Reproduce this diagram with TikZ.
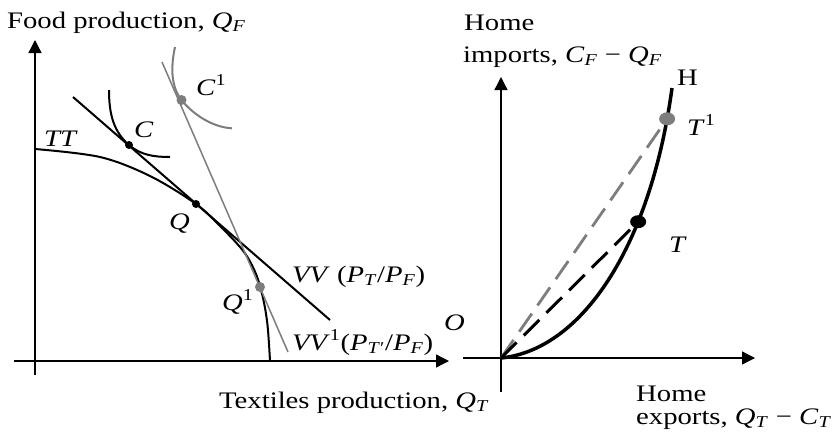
\documentclass[tikz,border=0pt]{standalone}
\usepackage{graphicx}
\usepackage{fontspec}
\setmainfont{Liberation Serif}
\usetikzlibrary{arrows.meta, shapes.geometric}
\definecolor{mgray}{RGB}{125,125,125}
\newcommand{\isub}[2]{\textit{#1}\textsubscript{\textit{#2}}}
\newcommand{\wide}[1]{\scalebox{1.21}[1.0]{#1}}

\begin{document}
\begin{tikzpicture}[x=1pt, y=-1pt,
    axis/.style={line width=1.3pt, -{Triangle[length=13pt,width=13pt]}},
    lbl/.style={anchor=base west, inner sep=0pt,
                font=\fontsize{23.7}{28}\selectfont},
    sdot/.style={circle, fill=black, inner sep=0pt, minimum size=8pt},
    gdot/.style={circle, fill=mgray, inner sep=0pt, minimum size=10pt},
    bigdot/.style={ellipse, fill=black, inner sep=0pt,
                   minimum width=16pt, minimum height=13pt},
    dashline/.style={line width=3pt, dash pattern=on 22pt off 10pt}]
  \useasboundingbox (0,0) rectangle (840,432);

  % left panel: production
  \coordinate (xl0) at (14,361);  \coordinate (xl1) at (449,361);
  \coordinate (yl0) at (35,375);  \coordinate (yl1) at (35,40);
  \draw[axis] (xl0) -- (xl1);
  \draw[axis] (yl0) -- (yl1);

  \draw[line width=2pt] plot[smooth, tension=0.55] coordinates {
    (35,149) (100,157) (150,176) (196,204) (222,228) (244,252)
    (256,274) (263,298) (267.5,325) (270,361)};

  \coordinate (C) at (129,145);
  \coordinate (C1) at (181.5,100);
  \coordinate (vva) at (73,97);   \coordinate (vvb) at (330,320);
  \coordinate (vwa) at (162,62);  \coordinate (vwb) at (288,352);
  \draw[line width=2pt] (vva) -- (vvb);
  \draw[line width=1.5pt, mgray] (vwa) -- (vwb);

  \draw[line width=2pt] (109,90) .. controls (109,115) and (114,132) .. (C)
    .. controls (141,155.4) and (155,157) .. (170,157);
  \draw[line width=2pt, mgray] (175,47) .. controls (170,70) and (172,88) .. (C1)
    .. controls (191,112) and (210,127) .. (232,128.3);

  \node[sdot] (Cd) at (C) {};
  \node[gdot] (C1d) at (C1) {};
  \node[sdot] (Qd) at (196,204) {};
  \node[gdot] (Q1d) at (260,287) {};

  \node[lbl] (foodlbl) at (7,28) {\wide{Food production, \isub{Q}{F}}};
  \node[lbl] (textlbl) at (219,408) {\wide{Textiles production, \isub{Q}{T}}};
  \node[lbl] (TTlbl) at (44,146) {\wide{\textit{TT}}};
  \node[lbl] (Clbl) at (134,137) {\wide{\textit{C}}};
  \node[lbl] (C1lbl) at (196,95) {\wide{\textit{C}\textsuperscript{1}}};
  \node[lbl] (Qlbl) at (169,229) {\wide{\textit{Q}}};
  \node[lbl] (Q1lbl) at (222,310) {\wide{\textit{Q}\textsuperscript{1}}};
  \node[lbl] (VVlbl) at (292,282) {\wide{\textit{VV} (\isub{P}{T}/\isub{P}{F})}};
  \node[lbl] (VV1lbl) at (292,350)
    {\wide{\textit{VV}\textsuperscript{1}(\textit{P}\textsubscript{\textit{T}′}/\isub{P}{F})}};
  \node[lbl] (Olbl) at (444,330) {\wide{\textit{O}}};

  % right panel: trade
  \coordinate (O2) at (501,358);
  \coordinate (xr0) at (463,358); \coordinate (xr1) at (755,358);
  \coordinate (yr0) at (501,392); \coordinate (yr1) at (501,77);
  \draw[axis] (xr0) -- (xr1);
  \draw[axis] (yr0) -- (yr1);

  \path (O2) .. controls (580,350) and (650,250) .. (672,88)
    coordinate[pos=0.685] (T) coordinate[pos=0.935] (T1);
  \draw[dashline, mgray, line width=2.8pt] (O2) -- (T1);
  \draw[dashline] (O2) -- (T);
  \draw[line width=3.5pt] (O2) .. controls (580,350) and (650,250) .. (672,88);
  \node[bigdot] (Td) at (T) {};
  \node[bigdot, fill=mgray] (T1d) at (T1) {};

  \node[lbl] (home1) at (464,30) {\wide{Home}};
  \node[lbl] (implbl) at (463,62) {\wide{imports, \isub{C}{F} − \isub{Q}{F}}};
  \node[lbl] (Hlbl) at (677,85) {\wide{H}};
  \node[lbl] (T1lbl) at (687,135) {\wide{\textit{T}\textsuperscript{1}}};
  \node[lbl] (Tlbl) at (669,252) {\wide{\textit{T}}};
  \node[lbl] (home2) at (636,401) {\wide{Home}};
  \node[lbl] (explbl) at (636,424) {\wide{exports, \isub{Q}{T} − \isub{C}{T}}};
\end{tikzpicture}
\end{document}
